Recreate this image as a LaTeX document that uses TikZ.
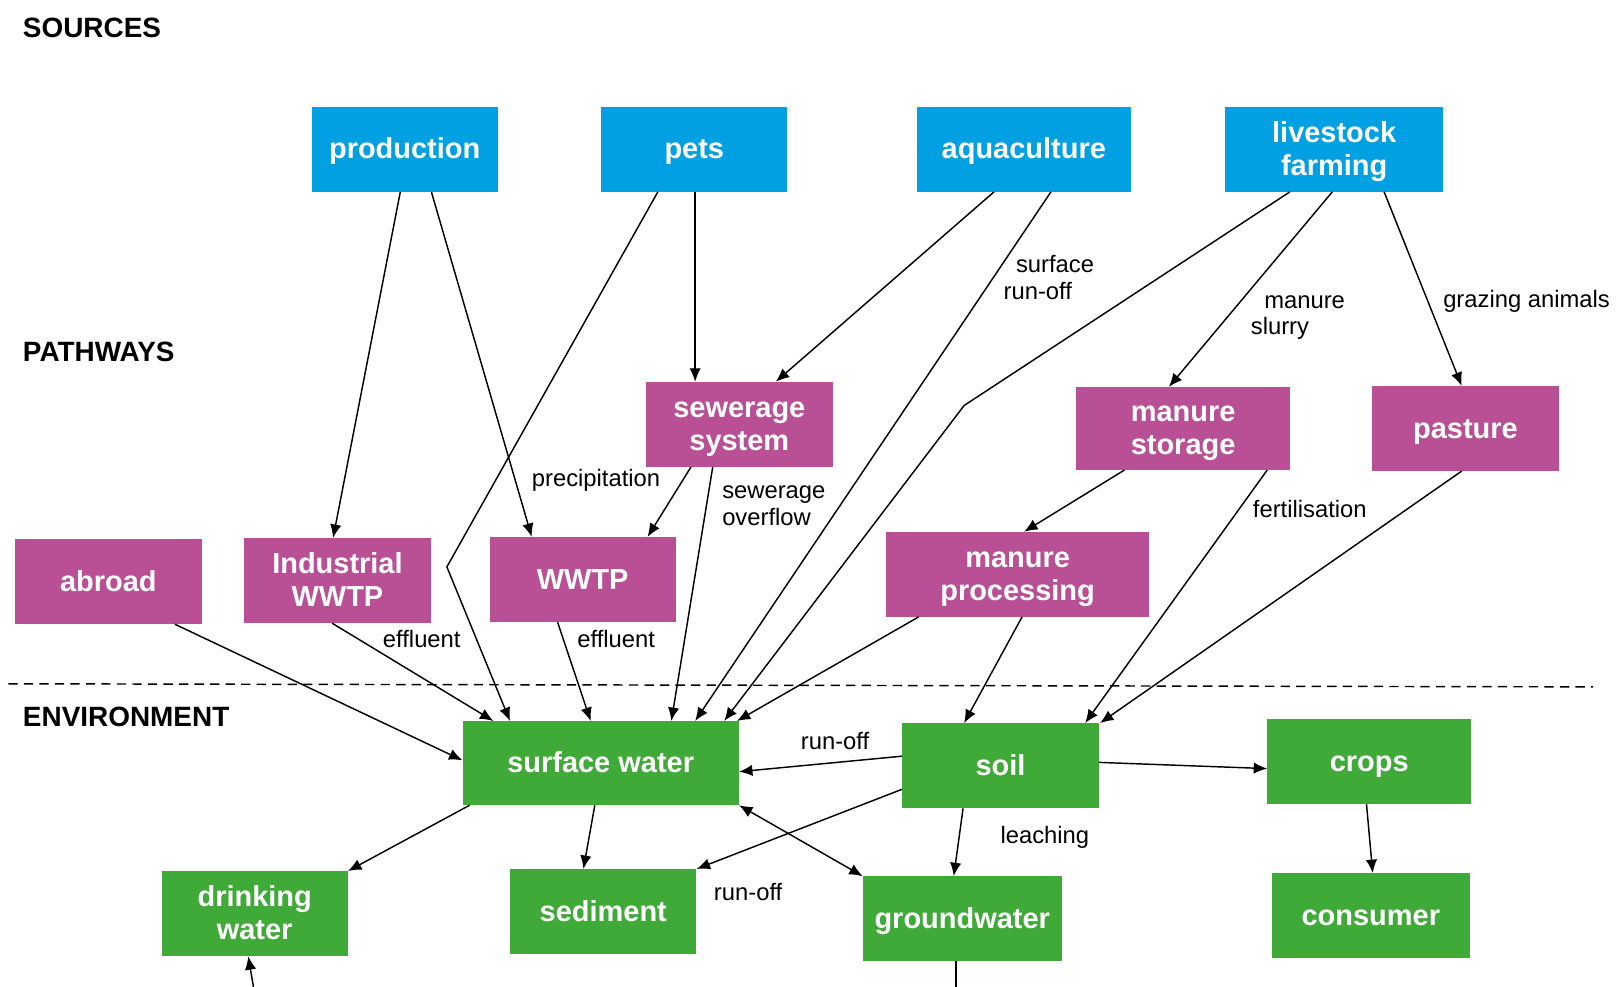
\documentclass[tikz,border=0pt]{standalone}
\usepackage{fontspec}
\setmainfont{Liberation Sans}
\usetikzlibrary{arrows.meta}
\definecolor{srcblue}{RGB}{0,160,227}
\definecolor{pwmag}{RGB}{185,80,150}
\definecolor{envgreen}{RGB}{63,170,56}
\newcommand\boxfont{\fontsize{28}{32}\selectfont\bfseries}
\newcommand\lblfont{\fontsize{23}{26}\selectfont}
\newcommand\headfont{\fontsize{27}{30}\selectfont\bfseries}
\newcommand\bst{\rule[-6.6pt]{0pt}{32pt}}
\tikzset{
  basebox/.style={inner sep=0pt, anchor=north west, text=white, font=\boxfont, align=center},
  srcbox/.style={basebox, fill=srcblue},
  pwbox/.style={basebox, fill=pwmag},
  envbox/.style={basebox, fill=envgreen},
  arr/.style={-{Latex[length=13pt,width=11pt]}, line width=1.4pt},
  dbl/.style={{Latex[length=13pt,width=11pt]}-{Latex[length=13pt,width=11pt]}, line width=1.4pt},
  plain/.style={line width=1.4pt},
  lbl/.style={font=\lblfont, inner sep=0pt},
  head/.style={font=\headfont, inner sep=0pt, anchor=mid west}
}
\begin{document}
\begin{tikzpicture}[x=1pt,y=-1pt]
\useasboundingbox (0,0) rectangle (1568,954);
% headings
\node[head] (hsrc) at (22,34) {SOURCES};
\node[head] (hpw) at (22,347) {PATHWAYS};
\node[head] (henv) at (22,700) {ENVIRONMENT};
% dashed separator
\draw[line width=1.4pt, dash pattern=on 9pt off 6pt] (8,661) -- (1540,664);
% sources
\node[srcbox, minimum width=180, minimum height=82] (prod) at (301,103) {\bst production};
\node[srcbox, minimum width=180, minimum height=82] (pets) at (581,103) {\bst pets};
\node[srcbox, minimum width=207, minimum height=82] (aqua) at (886,103) {\bst aquaculture};
\node[srcbox, minimum width=211, minimum height=82] (live) at (1184,103) {\bst livestock\\\bst farming};
% pathways
\node[pwbox, minimum width=181, minimum height=82] (sew) at (624,369) {\bst sewerage\\\bst system};
\node[pwbox, minimum width=207, minimum height=80] (mstor) at (1040,374) {\bst manure\\\bst storage};
\node[pwbox, minimum width=181, minimum height=82] (past) at (1326,373) {\bst pasture};
\node[pwbox, minimum width=181, minimum height=82] (abroad) at (14,521) {\bst abroad};
\node[pwbox, minimum width=180, minimum height=82] (iwwtp) at (236,520) {\bst Industrial\\\bst WWTP};
\node[pwbox, minimum width=180, minimum height=82] (wwtp) at (473,519) {\bst WWTP};
\node[pwbox, minimum width=255, minimum height=82] (mproc) at (856,514) {\bst manure\\\bst processing};
% environment
\node[envbox, minimum width=267, minimum height=81] (sw) at (447,697) {\bst surface water};
\node[envbox, minimum width=190, minimum height=82] (soil) at (872,699) {\bst soil};
\node[envbox, minimum width=197, minimum height=82] (crops) at (1225,695) {\bst crops};
\node[envbox, minimum width=180, minimum height=82] (dw) at (156,842) {\bst drinking\\\bst water};
\node[envbox, minimum width=180, minimum height=82] (sed) at (493,840) {\bst sediment};
\node[envbox, minimum width=192, minimum height=82] (gw) at (834,847) {\bst groundwater};
\node[envbox, minimum width=192, minimum height=82] (cons) at (1229,844) {\bst consumer};
% helper coordinates
\coordinate (k1) at (432,548);
\coordinate (k2) at (932,392);
\coordinate (gwout) at (924,954);
\coordinate (dwin) at (245,954);
% connectors from sources
\draw[arr] ([xshift=86]prod.south west) -- ([xshift=86]iwwtp.north west);
\draw[arr] ([xshift=116]prod.south west) -- ([xshift=41]wwtp.north west);
\draw[arr] ([xshift=55]pets.south west) -- (k1) -- ([xshift=46]sw.north west);
\draw[arr] ([xshift=91]pets.south west) -- ([xshift=48]sew.north west);
\draw[arr] ([xshift=75]aqua.south west) -- ([xshift=126]sew.north west);
\draw[arr] ([xshift=130]aqua.south west) -- ([xshift=225]sw.north west);
\draw[arr] ([xshift=63]live.south west) -- (k2) -- ([xshift=253]sw.north west);
\draw[arr] ([xshift=104]live.south west) -- ([xshift=90]mstor.north west);
\draw[arr] ([xshift=154]live.south west) -- ([xshift=87]past.north west);
% pathways connectors
\draw[arr] ([xshift=47]mstor.south west) -- ([xshift=134]mproc.north west);
\draw[arr] ([xshift=185]mstor.south west) -- ([xshift=177]soil.north west);
\draw[arr] ([xshift=87]past.south west) -- ([xshift=1]soil.north east);
\draw[arr] ([xshift=32]mproc.south west) -- ([xshift=-2]sw.north east);
\draw[arr] ([xshift=132]mproc.south west) -- ([xshift=60]soil.north west);
\draw[arr] ([xshift=44]sew.south west) -- ([xshift=153]wwtp.north west);
\draw[arr] ([xshift=65]sew.south west) -- ([xshift=202]sw.north west);
\draw[arr] ([xshift=155]abroad.south west) -- ([yshift=-38]sw.north west);
\draw[arr] ([xshift=85]iwwtp.south west) -- ([xshift=30]sw.north west);
\draw[arr] ([xshift=66]wwtp.south west) -- ([xshift=124]sw.north west);
% environment connectors
\draw[arr] ([yshift=-32]soil.north west) -- ([yshift=-49]sw.north east);
\draw[arr] ([yshift=-38]soil.north east) -- ([yshift=-48]crops.north west);
\draw[arr] ([yshift=-64]soil.north west) -- (sed.north east);
\draw[arr] ([xshift=59]soil.south west) -- ([xshift=88]gw.north west);
\draw[dbl] (sw.south east) -- (gw.north west);
\draw[arr] ([xshift=7]sw.south west) -- (dw.north east);
\draw[arr] ([xshift=128]sw.south west) -- ([xshift=71]sed.north west);
\draw[arr] ([xshift=96]crops.south west) -- ([xshift=98]cons.north west);
\draw[plain] ([xshift=90]gw.south west) -- (gwout);
\draw[arr] (dwin) -- ([xshift=84]dw.south west);
% labels
\node[lbl, anchor=west, align=left] (l1) at (970,268) {\hspace*{12pt}surface\\run-off};
\node[lbl, anchor=west, align=left] (l2) at (1209,307) {\hspace*{13pt}manure\\slurry};
\node[lbl, anchor=mid west] (l3) at (1395,295) {grazing animals};
\node[lbl, anchor=mid west] (l4) at (514,468) {precipitation};
\node[lbl, anchor=west, align=left] (l5) at (698,489) {sewerage\\overflow};
\node[lbl, anchor=mid west] (l6) at (1211,498) {fertilisation};
\node[lbl, anchor=mid west] (l7) at (370,623) {effluent};
\node[lbl, anchor=mid west] (l8) at (558,623) {effluent};
\node[lbl, anchor=mid west] (l9) at (774,722) {run-off};
\node[lbl, anchor=mid west] (l10) at (967,813) {leaching};
\node[lbl, anchor=mid west] (l11) at (690,868) {run-off};
\end{tikzpicture}
\end{document}
